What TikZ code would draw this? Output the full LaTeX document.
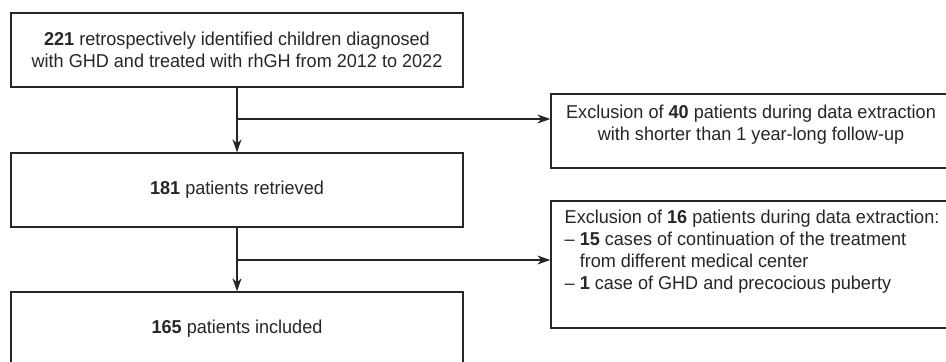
\documentclass[tikz,border=0pt]{standalone}
\usepackage{fontspec}
\setmainfont{Liberation Sans}[FakeStretch=0.97]
\usetikzlibrary{arrows.meta}
\usetikzlibrary{positioning}

\tikzset{
box/.style={draw=black!85,line width=0.75pt,minimum width=9.04cm,minimum height=1.48cm,align=center,inner sep=0pt,text=black!85},
sidebox/.style={box,minimum width=8cm},
flow/.style={draw=black!85,line width=0.75pt,-{Stealth[length=0.26cm,width=0.18cm,inset=0.08cm]}},
}

\begin{document}
\begin{tikzpicture}[font=\fontsize{10.6}{12.6}\selectfont]
\useasboundingbox (0,0) rectangle (18.92,-7.22);
\clip (0,0) rectangle (18.92,-7.22);
\node[box] (retro) at (4.74,-1.0) {\textbf{221} retrospectively identified children diagnosed\\with GHD and treated with rhGH from 2012 to 2022};
\node[box] (retr) at (4.74,-3.8) {\textbf{181} patients retrieved};
\node[box] (incl) at (4.74,-6.58) {\textbf{165} patients included};
\node[sidebox] (excl1) at (15.02,-2.62) {};
\node[anchor=north,align=center,inner sep=0pt,text=black!85] (excl1txt) at ([yshift=-0.22cm]excl1.north) {Exclusion of \textbf{40} patients during data extraction\\with shorter than 1 year-long follow-up};
\node[sidebox,minimum height=2.54cm] (excl2) at (15.02,-5.29) {};
\node[anchor=north west,align=left,inner sep=0pt,text=black!85] (excl2txt) at ([xshift=0.28cm,yshift=-0.18cm]excl2.north west) {Exclusion of \textbf{16} patients during data extraction:\\-- \textbf{15} cases of continuation of the treatment\\\phantom{-- }from different medical center\\-- \textbf{1} case of GHD and precocious puberty};

\coordinate (b1) at (retro.south |- 0,-2.38);
\coordinate (b2) at (retr.south |- 0,-5.2);
\draw[flow] (retro.south) -- (retr.north);
\draw[flow] (b1) -- (b1 -| excl1.west);
\draw[flow] (retr.south) -- (incl.north);
\draw[flow] (b2) -- (b2 -| excl2.west);

\end{tikzpicture}
\end{document}
